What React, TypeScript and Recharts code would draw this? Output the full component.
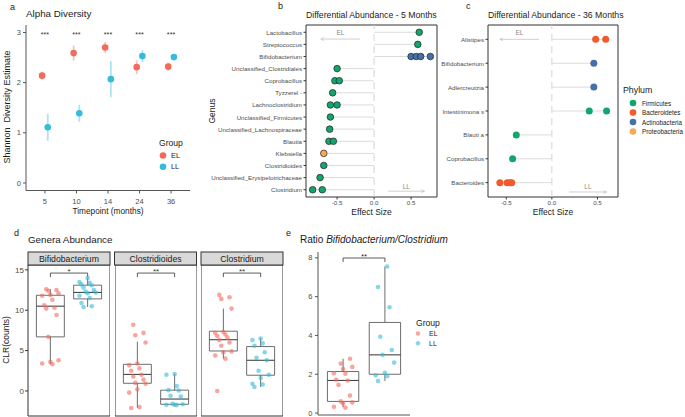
import React from "react";
import {
  ComposedChart,
  Scatter,
  XAxis,
  YAxis,
  ErrorBar,
  ReferenceLine,
  ReferenceArea,
} from "recharts";

const FONT = '"Liberation Sans", Arial, Helvetica, sans-serif';
const EL_COLOR = "#F26B5E";
const LL_COLOR = "#35BBDC";
const PHYLUM_COLORS: Record<string, string> = {
  Firmicutes: "#12A56C",
  Bacteroidetes: "#F15A2B",
  Actinobacteria: "#4570A8",
  Proteobacteria: "#F8A857",
};

// a - alpha diversity
const timepoints = ["5", "10", "14", "24", "36"];
const shannonEL = [2.14, 2.59, 2.7, 2.31, 2.32];
const shannonELerr = [0.08, 0.15, 0.11, 0.14, 0.08];
const shannonLL = [1.11, 1.39, 2.07, 2.53, 2.51];
const shannonLLerr = [0.27, 0.17, 0.36, 0.12, 0.05];
const shannonSig = ["***", "***", "***", "***", "***"];

// b - differential abundance 5 months
const genera5 = [
  "Lactobacillus",
  "Streptococcus",
  "Bifidobacterium",
  "Unclassified_Clostridiales",
  "Coprobacillus",
  "Tyzzerel -",
  "Lachnoclostridium",
  "Unclassified_Firmicutes",
  "Unclassified_Lachnospiraceae",
  "Blautia",
  "Klebsiella",
  "Clostridioides",
  "Unclassified_Erysipelotrichaceae",
  "Clostridium",
];
const effects5 = [
  [0.61],
  [0.59],
  [0.5, 0.57, 0.63, 0.76],
  [-0.5],
  [-0.53, -0.47],
  [-0.56],
  [-0.59, -0.5],
  [-0.59],
  [-0.6],
  [-0.61, -0.55],
  [-0.68],
  [-0.68],
  [-0.73],
  [-0.83, -0.7],
];
const phyla5 = [
  "Firmicutes",
  "Firmicutes",
  "Actinobacteria",
  "Firmicutes",
  "Firmicutes",
  "Firmicutes",
  "Firmicutes",
  "Firmicutes",
  "Firmicutes",
  "Firmicutes",
  "Proteobacteria",
  "Firmicutes",
  "Firmicutes",
  "Firmicutes",
];

// c - differential abundance 36 months
const genera36 = [
  "Alistipes",
  "Bifidobacterium",
  "Adlercreutzia",
  "Intestinimona s",
  "Blauti a",
  "Coprobacillus",
  "Bacteroides",
];
const effects36 = [
  [0.48, 0.59],
  [0.46],
  [0.46],
  [0.41, 0.6],
  [-0.39],
  [-0.43],
  [-0.57, -0.49, -0.46, -0.44],
];
const phyla36 = [
  "Bacteroidetes",
  "Actinobacteria",
  "Actinobacteria",
  "Firmicutes",
  "Firmicutes",
  "Firmicutes",
  "Bacteroidetes",
];
const phylumLegend = ["Firmicutes", "Bacteroidetes", "Actinobacteria", "Proteobacteria"];

// d - genera abundance, CLR counts
const facetGenera = ["Bifidobacterium", "Clostridioides", "Clostridium"];
const clrEL = [
  [12.6, 12.5, 12.4, 12.1, 11.9, 11.8, 11.3, 10.6, 10.3, 10.2, 9.4, 6.7, 3.8, 3.6, 3.4, 3.3],
  [8.2, 7.2, 6.9, 6.0, 3.4, 3.2, 2.8, 2.5, 2.0, 1.8, 1.4, 1.0, 0.9, 0.2, -0.2, -2.0, -2.1],
  [11.9, 11.6, 11.4, 10.2, 7.3, 7.2, 7.0, 6.8, 6.6, 6.3, 6.0, 5.6, 4.9, 4.8, 4.4, 4.0, 0.0],
];
const clrLL = [
  [14.0, 13.5, 13.4, 13.2, 13.1, 12.8, 12.5, 12.3, 12.2, 12.1, 11.8, 11.5, 10.9, 10.5, 10.4],
  [2.1, 2.0, 0.6, 0.1, 0.05, -0.6, -0.7, -1.6, -1.65, -1.7, -1.7, -1.75],
  [6.5, 6.3, 5.9, 5.6, 4.8, 4.1, 3.8, 2.5, 2.0, 1.6, 0.9, 0.8, 0.5],
];
// [lower whisker, Q1, median, Q3, upper whisker]
const clrBoxEL = [
  [3.3, 6.7, 10.5, 11.85, 12.6],
  [-2.1, 0.95, 2.05, 3.3, 6.1],
  [4.0, 4.95, 6.35, 7.4, 10.2],
];
const clrBoxLL = [
  [10.4, 11.4, 12.2, 13.1, 14.0],
  [-1.75, -1.65, -1.0, 0.1, 2.1],
  [0.5, 1.95, 3.8, 5.5, 6.5],
];
const clrSig = ["*", "**", "**"];

// e - ratio Bifidobacterium / Clostridium
const ratioEL = [2.8, 2.55, 2.38, 2.27, 2.05, 2.03, 1.72, 1.68, 1.45, 0.9, 0.6, 0.55, 0.5, 0.32, 0.28];
const ratioLL = [7.55, 6.5, 5.45, 3.93, 3.25, 3.0, 2.6, 2.08, 1.95, 1.9, 1.65];
const ratioBoxEL = [0.3, 0.6, 1.68, 2.14, 2.8];
const ratioBoxLL = [1.65, 2.0, 3.0, 4.67, 7.55];
const ratioSig = "**";

const groups = ["EL", "LL"];

// deterministic horizontal spread for the jittered points
const jitter = (i: number) => (((i * 5 + 2) % 9) - 4) * 0.055;

const dot = (r: number, fill: string, opacity = 1, stroke = "none") => (p: any) =>
  <circle cx={p.cx} cy={p.cy} r={r} fill={fill} fillOpacity={opacity} stroke={stroke} strokeWidth={0.7} />;

const textShape = (size: number, dy: number, fill = "#333") => (p: any) =>
  (
    <text x={p.cx} y={p.cy + dy} textAnchor="middle" fontSize={size} fill={fill} fontFamily={FONT}>
      {p.payload.label}
    </text>
  );

const arrowShape = (p: any) => (
  <line x1={p.x1} y1={p.y1} x2={p.x2} y2={p.y2} stroke="#c4c4c4" strokeWidth={0.8} markerEnd="url(#arrowHead)" />
);

const tickStyle = (size: number) => ({ fontSize: size, fill: "#4d4d4d", fontFamily: FONT });

function boxElements(stats: number[], xc: number, key: string) {
  const [lo, q1, med, q3, hi] = stats;
  const hw = 0.375;
  const s = { stroke: "#5c5c5c", strokeWidth: 0.9, ifOverflow: "visible" as const };
  return [
    <ReferenceLine key={key + "w1"} segment={[{ x: xc, y: lo }, { x: xc, y: q1 }]} {...s} />,
    <ReferenceLine key={key + "w2"} segment={[{ x: xc, y: q3 }, { x: xc, y: hi }]} {...s} />,
    <ReferenceArea key={key + "b"} x1={xc - hw} x2={xc + hw} y1={q1} y2={q3} fill="none" fillOpacity={0} {...s} />,
    <ReferenceLine
      key={key + "m"}
      segment={[{ x: xc - hw, y: med }, { x: xc + hw, y: med }]}
      stroke="#444"
      strokeWidth={1.1}
      ifOverflow="visible"
    />,
  ];
}

function bracketElements(y: number, drop: number, label: string, key: string) {
  const s = { stroke: "#333", strokeWidth: 0.8, ifOverflow: "visible" as const };
  return [
    <ReferenceLine key={key + "h"} segment={[{ x: 1, y }, { x: 2, y }]} {...s} />,
    <ReferenceLine key={key + "l"} segment={[{ x: 1, y }, { x: 1, y: y - drop }]} {...s} />,
    <ReferenceLine key={key + "r"} segment={[{ x: 2, y }, { x: 2, y: y - drop }]} {...s} />,
    <Scatter key={key + "t"} data={[{ x: 1.5, y, label }]} shape={textShape(8, 0.5)} isAnimationActive={false} />,
  ];
}

function AlphaPanel() {
  const el = timepoints.map((t, i) => ({ x: i + 1 - 0.09, y: shannonEL[i], err: shannonELerr[i] }));
  const ll = timepoints.map((t, i) => ({ x: i + 1 + 0.09, y: shannonLL[i], err: shannonLLerr[i] }));
  const sig = timepoints.map((t, i) => ({ x: i + 1, y: 3, label: shannonSig[i] }));
  return (
    <div style={{ position: "absolute", left: 0, top: 0 }}>
      <ComposedChart width={200} height={215} margin={{ top: 25, right: 10, bottom: 0, left: 0 }}>
        <XAxis
          type="number"
          dataKey="x"
          domain={[0.4, 5.6]}
          ticks={[1, 2, 3, 4, 5]}
          interval={0}
          tickFormatter={(v) => timepoints[Math.round(v) - 1]}
          height={24.5}
          tickSize={3}
          tickMargin={5}
          stroke="#555"
          tick={tickStyle(7.5)}
          allowDataOverflow
        />
        <YAxis
          type="number"
          dataKey="y"
          domain={[-0.15, 3.15]}
          ticks={[0, 1, 2, 3]}
          interval={0}
          width={26}
          tickSize={3}
          tickMargin={2}
          stroke="#555"
          tick={tickStyle(7.5)}
          allowDataOverflow
        />
        <Scatter data={el} isAnimationActive={false} shape={dot(3.3, EL_COLOR)}>
          <ErrorBar dataKey="err" direction="y" width={0} stroke={EL_COLOR} strokeOpacity={0.4} strokeWidth={1.8} />
        </Scatter>
        <Scatter data={ll} isAnimationActive={false} shape={dot(3.3, LL_COLOR)}>
          <ErrorBar dataKey="err" direction="y" width={0} stroke={LL_COLOR} strokeOpacity={0.4} strokeWidth={1.8} />
        </Scatter>
        <Scatter data={sig} isAnimationActive={false} shape={textShape(7.2, 4)} />
      </ComposedChart>
    </div>
  );
}

type Arrow = { from: number; to: number; row: number; textRow: number };

type DiffProps = {
  genera: string[];
  effects: number[][];
  phyla: string[];
  left: number;
  width: number;
  yAxisWidth: number;
  right: number;
  xDomain: [number, number];
  outline: boolean;
  radius: number;
  elArrow: Arrow;
  llArrow: Arrow;
};

function DiffPanel(props: DiffProps) {
  const { genera, effects, phyla, xDomain } = props;
  const n = genera.length;
  const pts = effects.flatMap((vals, i) => vals.map((v) => ({ x: v, y: i + 1, phylum: phyla[i] })));
  const ext = effects.map((vals) => vals.reduce((a, b) => (Math.abs(b) > Math.abs(a) ? b : a), 0));
  const labels = [
    { x: (props.elArrow.from + props.elArrow.to) / 2, y: props.elArrow.textRow, label: "EL" },
    { x: (props.llArrow.from + props.llArrow.to) / 2, y: props.llArrow.textRow, label: "LL" },
  ];
  const genusTick = (p: any) => (
    <text
      x={p.x}
      y={p.y}
      textAnchor="end"
      dominantBaseline="central"
      fontSize={6.2}
      fill="#4d4d4d"
      fontFamily={FONT}
      style={{ whiteSpace: "pre" }}
    >
      {genera[Math.round(p.payload.value) - 1]}
    </text>
  );
  return (
    <div style={{ position: "absolute", left: props.left, top: 0 }}>
      <ComposedChart width={props.width} height={215} margin={{ top: 25, right: props.right, bottom: 0, left: 0 }}>
        <XAxis
          type="number"
          dataKey="x"
          domain={xDomain}
          ticks={[-0.5, 0, 0.5]}
          interval={0}
          tickFormatter={(v) => Number(v).toFixed(1)}
          height={18}
          tickSize={2.5}
          tickMargin={1.3}
          axisLine={false}
          stroke="#333"
          tick={tickStyle(6.2)}
          allowDataOverflow
        />
        <YAxis
          type="number"
          dataKey="y"
          reversed
          domain={[0.4, n + 0.6]}
          ticks={genera.map((g, i) => i + 1)}
          interval={0}
          width={props.yAxisWidth}
          tickSize={2.5}
          tickMargin={1.5}
          axisLine={false}
          stroke="#333"
          tick={genusTick}
          allowDataOverflow
        />
        <ReferenceLine x={0} stroke="#d4d4d4" strokeDasharray="7 5" strokeWidth={1} />
        {ext.map((e, i) => (
          <ReferenceLine
            key={"seg" + i}
            segment={[{ x: 0, y: i + 1 }, { x: e, y: i + 1 }]}
            stroke="#dcdcdc"
            strokeWidth={1}
          />
        ))}
        <ReferenceLine
          segment={[{ x: props.elArrow.from, y: props.elArrow.row }, { x: props.elArrow.to, y: props.elArrow.row }]}
          shape={arrowShape}
        />
        <ReferenceLine
          segment={[{ x: props.llArrow.from, y: props.llArrow.row }, { x: props.llArrow.to, y: props.llArrow.row }]}
          shape={arrowShape}
        />
        <ReferenceArea
          x1={xDomain[0]}
          x2={xDomain[1]}
          y1={0.4}
          y2={n + 0.6}
          fill="none"
          fillOpacity={0}
          stroke="#333"
          strokeWidth={1}
          ifOverflow="visible"
        />
        <Scatter
          data={labels}
          isAnimationActive={false}
          shape={(p: any) => (
            <text
              x={p.cx}
              y={p.cy}
              textAnchor="middle"
              dominantBaseline="central"
              fontSize={6.5}
              fill="#8a8a8a"
              fontFamily={FONT}
            >
              {p.payload.label}
            </text>
          )}
        />
        <Scatter
          data={pts}
          isAnimationActive={false}
          shape={(p: any) => (
            <circle
              cx={p.cx}
              cy={p.cy}
              r={props.radius}
              fill={PHYLUM_COLORS[p.payload.phylum]}
              stroke={props.outline ? "#222" : "none"}
              strokeWidth={0.7}
            />
          )}
        />
      </ComposedChart>
    </div>
  );
}

function GeneraFacet({ k, left, showAxis }: { k: number; left: number; showAxis: boolean }) {
  const el = clrEL[k].map((v, i) => ({ x: 1 + jitter(i), y: v }));
  const ll = clrLL[k].map((v, i) => ({ x: 2 + jitter(i + 4), y: v }));
  const yDomain: [number, number] = [-3.1, 15.6];
  return (
    <div style={{ position: "absolute", left, top: 265 }}>
      <ComposedChart width={showAxis ? 110 : 82} height={152} margin={{ top: 0, right: 0, bottom: 1, left: 0 }}>
        <XAxis type="number" dataKey="x" domain={[0.4, 2.6]} hide allowDataOverflow />
        <YAxis
          type="number"
          dataKey="y"
          domain={yDomain}
          ticks={[0, 5, 10, 15]}
          interval={0}
          width={28}
          hide={!showAxis}
          axisLine={false}
          tickSize={3}
          tickMargin={1}
          stroke="#333"
          tick={tickStyle(8)}
          allowDataOverflow
        />
        <ReferenceArea
          x1={0.4}
          x2={2.6}
          y1={yDomain[0]}
          y2={yDomain[1]}
          fill="none"
          fillOpacity={0}
          stroke="#333"
          strokeWidth={1}
          ifOverflow="visible"
        />
        {boxElements(clrBoxEL[k], 1, "el")}
        {boxElements(clrBoxLL[k], 2, "ll")}
        <Scatter data={el} isAnimationActive={false} shape={dot(2.3, EL_COLOR, 0.6)} />
        <Scatter data={ll} isAnimationActive={false} shape={dot(2.3, LL_COLOR, 0.6)} />
        {bracketElements(14.6, 0.5, clrSig[k], "sig")}
      </ComposedChart>
    </div>
  );
}

function RatioPanel() {
  const el = ratioEL.map((v, i) => ({ x: 1 + jitter(i + 1), y: v }));
  const ll = ratioLL.map((v, i) => ({ x: 2 + jitter(i + 6), y: v }));
  return (
    <div style={{ position: "absolute", left: 290, top: 245 }}>
      <ComposedChart width={120} height={172} margin={{ top: 7, right: 0, bottom: 0, left: 0 }}>
        <XAxis
          type="number"
          dataKey="x"
          domain={[0.4, 2.6]}
          ticks={[1, 2]}
          tick={false}
          tickLine={false}
          height={2}
          stroke="#555"
          allowDataOverflow
        />
        <YAxis
          type="number"
          dataKey="y"
          domain={[-0.1, 8.3]}
          ticks={[0, 2, 4, 6, 8]}
          interval={0}
          width={28}
          tickSize={3}
          tickMargin={2.5}
          stroke="#555"
          tick={tickStyle(7.5)}
          allowDataOverflow
        />
        {boxElements(ratioBoxEL, 1, "el")}
        {boxElements(ratioBoxLL, 2, "ll")}
        <Scatter data={el} isAnimationActive={false} shape={dot(2.3, EL_COLOR, 0.6)} />
        <Scatter data={ll} isAnimationActive={false} shape={dot(2.3, LL_COLOR, 0.6)} />
        {bracketElements(7.99, 0.21, ratioSig, "sig")}
      </ComposedChart>
    </div>
  );
}

const T = (p: {
  x: number;
  y: number;
  size: number;
  children: React.ReactNode;
  anchor?: "start" | "middle" | "end";
  rotate?: boolean;
  fill?: string;
  weight?: string;
}) => (
  <text
    x={p.x}
    y={p.y}
    fontSize={p.size}
    textAnchor={p.anchor ?? "start"}
    dominantBaseline="central"
    fill={p.fill ?? "#1a1a1a"}
    fontWeight={p.weight ?? "normal"}
    transform={p.rotate ? `rotate(-90 ${p.x} ${p.y})` : undefined}
    style={{ whiteSpace: "pre" }}
  >
    {p.children}
  </text>
);

const facetLefts = [28, 114.5, 201];

function Overlay() {
  return (
    <svg
      width={685}
      height={417}
      style={{ position: "absolute", left: 0, top: 0, pointerEvents: "none" }}
      fontFamily={FONT}
    >
      <defs>
        <marker id="arrowHead" viewBox="0 0 10 10" refX="9" refY="5" markerWidth="5" markerHeight="5" orient="auto">
          <path d="M1,1 L9,5 L1,9" fill="none" stroke="#b8b8b8" strokeWidth="1.4" />
        </marker>
      </defs>
      {/* panel letters */}
      <T x={10} y={7} size={9}>a</T>
      <T x={278} y={6} size={9}>b</T>
      <T x={466} y={6} size={9}>c</T>
      <T x={14} y={233} size={9}>d</T>
      <T x={286} y={233} size={9}>e</T>
      {/* titles */}
      <T x={26} y={13} size={9.8}>Alpha Diversity</T>
      <T x={306} y={15} size={8.7}>Differential Abundance - 5 Months</T>
      <T x={488} y={15} size={8.7}>Differential Abundance - 36 Months</T>
      <T x={28} y={239} size={9.8}>Genera Abundance</T>
      <T x={300} y={239} size={10}>
        Ratio <tspan fontStyle="italic">Bifidobacterium/Clostridium</tspan>
      </T>
      {/* axis titles */}
      <T x={108} y={211} size={8.3} anchor="middle">Timepoint (months)</T>
      <T x={7} y={107} size={9} anchor="middle" rotate>Shannon  Diversity Estimate</T>
      <T x={212} y={111} size={8.5} anchor="middle" rotate>Genus</T>
      <T x={371.5} y={212} size={8.5} anchor="middle">Effect Size</T>
      <T x={553} y={212} size={8.5} anchor="middle">Effect Size</T>
      <T x={6} y={340} size={8.5} anchor="middle" rotate>CLR(counts)</T>
      {/* legend a */}
      <T x={159} y={143} size={8.6}>Group</T>
      {groups.map((g, i) => (
        <g key={"ga" + g}>
          <circle cx={163} cy={155.5 + i * 11.2} r={3.3} fill={i === 0 ? EL_COLOR : LL_COLOR} />
          <T x={171} y={155.5 + i * 11.2} size={7.4}>{g}</T>
        </g>
      ))}
      {/* legend c */}
      <T x={623} y={90} size={8.8}>Phylum</T>
      {phylumLegend.map((p, i) => (
        <g key={"ph" + p}>
          <circle cx={633} cy={103 + i * 9.5} r={3.3} fill={PHYLUM_COLORS[p]} />
          <T x={642} y={103 + i * 9.5} size={6.3}>{p}</T>
        </g>
      ))}
      {/* legend e */}
      <T x={416} y={323} size={8.6}>Group</T>
      {groups.map((g, i) => (
        <g key={"ge" + g}>
          <circle cx={418} cy={333.5 + i * 9.7} r={2.2} fill={i === 0 ? EL_COLOR : LL_COLOR} fillOpacity={0.6} />
          <T x={429} y={333.5 + i * 9.7} size={7}>{g}</T>
        </g>
      ))}
      {/* facet strips */}
      {facetGenera.map((g, i) => (
        <g key={"strip" + g}>
          <rect x={facetLefts[i]} y={252} width={82} height={13} fill="#d9d9d9" stroke="#333" strokeWidth={1} />
          <T x={facetLefts[i] + 41} y={258.5} size={8.7} anchor="middle">{g}</T>
        </g>
      ))}
    </svg>
  );
}

export default function App() {
  return (
    <div
      style={{
        position: "absolute",
        left: 0,
        top: 0,
        width: 685,
        height: 417,
        background: "#fff",
        fontFamily: FONT,
        overflow: "hidden",
      }}
    >
      <AlphaPanel />
      <DiffPanel
        genera={genera5}
        effects={effects5}
        phyla={phyla5}
        left={190}
        width={255}
        yAxisWidth={116}
        right={8}
        xDomain={[-0.92, 0.85]}
        outline
        radius={3.3}
        elArrow={{ from: -0.19, to: -0.72, row: 1.56, textRow: 1.06 }}
        llArrow={{ from: 0.19, to: 0.68, row: 14.12, textRow: 13.7 }}
      />
      <DiffPanel
        genera={genera36}
        effects={effects36}
        phyla={phyla36}
        left={420}
        width={200}
        yAxisWidth={68}
        right={2}
        xDomain={[-0.7, 0.725]}
        outline={false}
        radius={3.5}
        elArrow={{ from: -0.14, to: -0.57, row: 1.0, textRow: 0.73 }}
        llArrow={{ from: 0.19, to: 0.6, row: 7.39, textRow: 7.14 }}
      />
      <GeneraFacet k={0} left={0} showAxis />
      <GeneraFacet k={1} left={114.5} showAxis={false} />
      <GeneraFacet k={2} left={201} showAxis={false} />
      <RatioPanel />
      <Overlay />
    </div>
  );
}
